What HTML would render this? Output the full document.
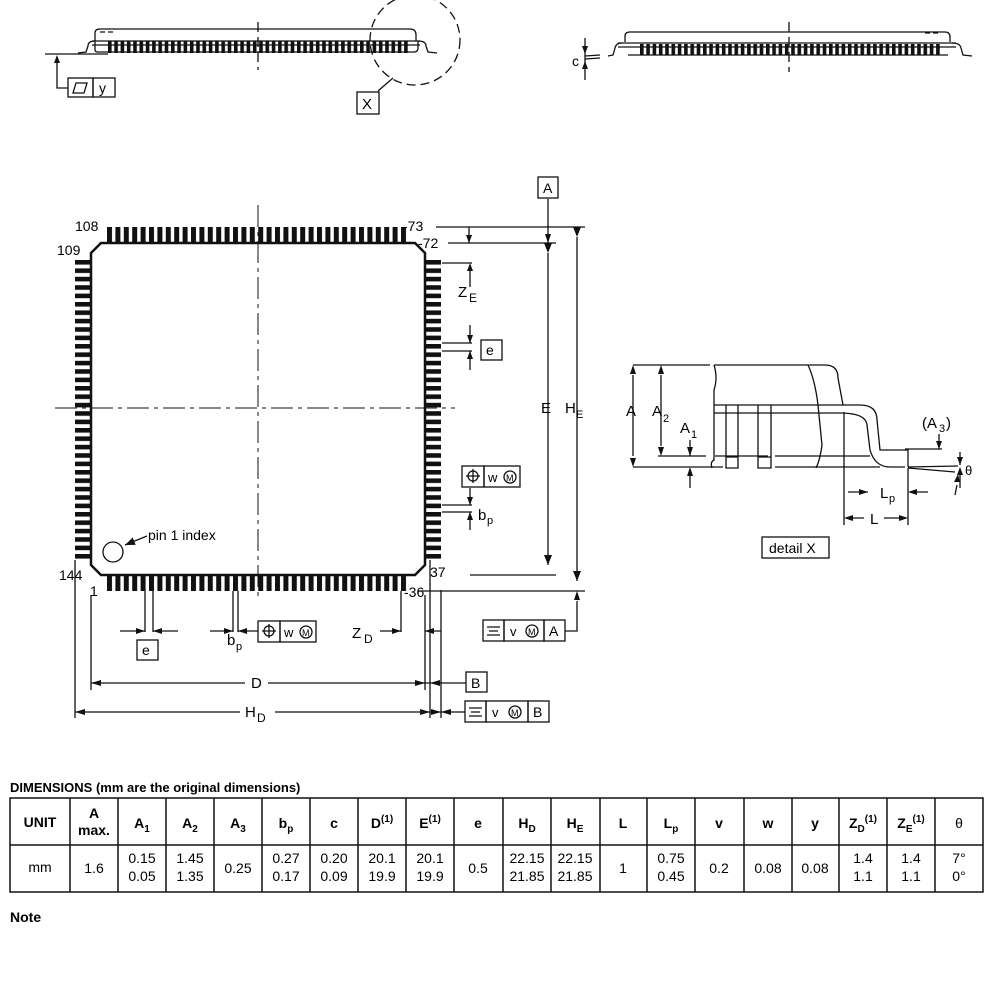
<!DOCTYPE html>
<html><head><meta charset="utf-8"><style>
body{margin:0;background:#fff}
svg{display:block;font-family:"Liberation Sans",Arial,sans-serif}
</style></head><body>
<svg width="1000" height="1000" viewBox="0 0 1000 1000" xmlns="http://www.w3.org/2000/svg">
<defs>
<pattern id="ph" x="107" y="0" width="8.4" height="20" patternUnits="userSpaceOnUse"><rect x="0" y="0" width="5" height="20" fill="#111"/></pattern>
<pattern id="pv" x="0" y="260" width="20" height="8.4" patternUnits="userSpaceOnUse"><rect x="0" y="0" width="20" height="4.6" fill="#111"/></pattern>
<pattern id="ps1" x="108" y="0" width="6.3" height="20" patternUnits="userSpaceOnUse"><rect x="0" y="0" width="3.6" height="20" fill="#111"/></pattern>
<pattern id="ps2" x="640" y="0" width="6.3" height="20" patternUnits="userSpaceOnUse"><rect x="0" y="0" width="3.6" height="20" fill="#111"/></pattern>
<marker id="ar" markerWidth="10" markerHeight="8" refX="10" refY="4" orient="auto" markerUnits="userSpaceOnUse"><path d="M0,0 L10,4 L0,8 z" fill="#111"/></marker>
</defs>
<g stroke="#111" fill="none" stroke-width="1.3">
<path d="M95,41 L95,33 Q95,29 100,29 L410,29 Q416,29 416,35 L416,41"/>
<path d="M92,41 L420,41 M92,45 L420,45"/>
<path d="M95,41 Q88,41 88,46 L86,52 L78,53 M418,41 Q426,41 426,46 L428,52 L437,53"/>
<path d="M98,52 L414,52 M95,41 L95,50 Q95,52 98,52 M414,52 Q418,52 418,48 L418,41"/>
<path d="M100,32 L115,32" stroke-dasharray="5,3"/>
<path d="M45,54 L108,54"/>
<path d="M258,22 L258,70" stroke-dasharray="10,5"/>
<path d="M57,57 L57,88 L68,88"/>
<circle cx="415" cy="40" r="45" stroke-dasharray="9,5"/>
<path d="M378,91 L393,78"/>
</g>
<rect x="108" y="41" width="302" height="12" fill="url(#ps1)"/>
<path d="M57,55 l-3,8 l6,0 z" fill="#111"/>
<rect x="68" y="78" width="25" height="19" fill="none" stroke="#111" stroke-width="1.3"/>
<rect x="93" y="78" width="22" height="19" fill="none" stroke="#111" stroke-width="1.3"/>
<path d="M76,83 L87,83 L84,93 L73,93 z" fill="none" stroke="#111" stroke-width="1.3"/>
<text x="99" y="93" font-size="14">y</text>
<rect x="357" y="92" width="22" height="22" fill="none" stroke="#111" stroke-width="1.3"/>
<text x="362" y="109" font-size="15">X</text>

<g stroke="#111" fill="none" stroke-width="1.3">
<path d="M625,42 L625,36 Q625,32 630,32 L945,32 Q950,32 950,37 L950,42"/>
<path d="M618,43 L956,43 M618,47 L956,47"/>
<path d="M622,43 Q616,43 615,48 L613,55 L608,56 M952,43 Q960,43 961,48 L963,55 L972,56"/>
<path d="M628,55 L948,55"/>
<path d="M925,33 L940,33" stroke-dasharray="5,3"/>
<path d="M789,22 L789,72" stroke-dasharray="10,5"/>
<path d="M585,38 L585,80 M585,56 L600,55 M585,59 L600,58"/>
</g>
<rect x="640" y="44" width="300" height="11" fill="url(#ps2)"/>
<path d="M585,54 l-3,-8 l6,0 z M585,61 l-3,8 l6,0 z" fill="#111"/>
<text x="572" y="66" font-size="14">c</text>

<g stroke="#111" fill="none">
<path d="M258,205 L258,600" stroke-width="1" stroke-dasharray="22,5,4,5"/>
<path d="M55,408 L455,408" stroke-width="1" stroke-dasharray="22,5,4,5"/>
<path d="M101,243 L415,243 L425,253 L425,565 L415,575 L101,575 L91,565 L91,253 Z" stroke-width="2.5"/>
</g>
<rect x="107" y="227" width="300" height="16" fill="url(#ph)"/>
<rect x="107" y="575" width="300" height="16" fill="url(#ph)"/>
<rect x="75" y="260" width="16" height="302" fill="url(#pv)"/>
<rect x="425" y="260" width="16" height="302" fill="url(#pv)"/>
<circle cx="113" cy="552" r="10" fill="none" stroke="#111" stroke-width="1.3"/>
<path d="M147,536 L125,545" stroke="#111" stroke-width="1.3" marker-end="url(#ar)"/>
<text x="148" y="540" font-size="14">pin 1 index</text>
<g font-size="14">
<text x="75" y="231">108</text>
<text x="57" y="255">109</text>
<text x="59" y="580">144</text>
<text x="90" y="596">1</text>
<text x="403" y="231">-73</text>
<text x="418" y="248">-72</text>
<text x="430" y="577">37</text>
<text x="404" y="597">-36</text>
</g>
<g stroke="#111" fill="none" stroke-width="1.3">
<path d="M436,227 L585,227 M448,243 L556,243 M470,575 L556,575 M418,591 L585,591"/>
<path d="M548,199 L548,243"/>
<path d="M548,253 L548,565" marker-start="url(#ar)" marker-end="url(#ar)"/>
<path d="M577,237 L577,581" marker-start="url(#ar)" marker-end="url(#ar)"/>
<path d="M469,227 L469,243" />
<path d="M442,263 L472,263 M470,270 L470,287 M442,343 L472,343 M442,351 L472,351 M470,325 L470,343 M470,351 L470,370"/>
<path d="M442,505 L472,505 M442,512 L472,512 M470,488 L470,505 M470,512 L470,530"/>
<path d="M430,560 L430,718 M441,590 L441,718 M577,601 L577,631 L565,631"/>
<path d="M91,595 L91,690 M75,560 L75,718 M425,595 L425,690"/>
<path d="M145,591 L145,632 M153,591 L153,632 M120,631 L145,631 M153,631 L178,631"/>
<path d="M233,591 L233,632 M238,591 L238,632 M210,631 L233,631 M238,631 L258,631"/>
<path d="M401,591 L401,632 M380,631 L401,631 M425,631 L441,631"/>
<path d="M91,683 L245,683 M268,683 L425,683 M425,683 L466,683"/>
<path d="M75,712 L240,712 M275,712 L441,712 M441,712 L465,712"/>
</g>
<g fill="#111">
<path d="M469,243 l-3,-8 l6,0 z M548,243 l-3,-9 l6,0 z M470,263 l-3,8 l6,0 z M470,343 l-3,-8 l6,0 z M470,351 l-3,8 l6,0 z M470,505 l-3,-8 l6,0 z M470,512 l-3,8 l6,0 z M577,591 l-3,9 l6,0 z"/>
<path d="M145,631 l-9,-3 l0,6 z M153,631 l9,-3 l0,6 z M233,631 l-9,-3 l0,6 z M238,631 l9,-3 l0,6 z M401,631 l-9,-3 l0,6 z M425,631 l9,-3 l0,6 z"/>
<path d="M91,683 l10,-3 l0,6 z M425,683 l-10,-3 l0,6 z M75,712 l10,-3 l0,6 z M441,712 l-10,-3 l0,6 z M441,712 l10,-3 l0,6 z M430,712 l-10,-3 l0,6 z M430,683 l10,-3 l0,6 z"/>
</g>
<g font-size="15">
<text x="541" y="413">E</text>
<text x="565" y="413">H</text><text x="576" y="418" font-size="11">E</text>
<text x="458" y="297">Z</text><text x="469" y="302" font-size="12">E</text>
<text x="478" y="520">b</text><text x="487" y="524" font-size="11">p</text>
<text x="251" y="688">D</text>
<text x="245" y="717">H</text><text x="257" y="722" font-size="12">D</text>
<text x="352" y="638">Z</text><text x="364" y="643" font-size="12">D</text>
<text x="227" y="645">b</text><text x="236" y="650" font-size="11">p</text>
</g>
<g stroke="#111" fill="none" stroke-width="1.3">
<rect x="538" y="177" width="20" height="21"/>
<rect x="481" y="340" width="21" height="20"/>
<rect x="137" y="640" width="21" height="20"/>
<rect x="466" y="672" width="21" height="20"/>
<rect x="462" y="466" width="22" height="21"/><rect x="484" y="466" width="36" height="21"/>
<rect x="258" y="621" width="22" height="21"/><rect x="280" y="621" width="36" height="21"/>
<rect x="483" y="620" width="21" height="21"/><rect x="504" y="620" width="40" height="21"/><rect x="544" y="620" width="21" height="21"/>
<rect x="465" y="701" width="21" height="21"/><rect x="486" y="701" width="42" height="21"/><rect x="528" y="701" width="21" height="21"/>
<circle cx="473" cy="476" r="5"/><path d="M473,469 L473,483 M466,476 L480,476"/>
<circle cx="269" cy="631" r="5"/><path d="M269,624 L269,638 M262,631 L276,631"/>
<circle cx="510" cy="477" r="6"/><circle cx="306" cy="632" r="6"/>
<circle cx="532" cy="631" r="6"/><circle cx="515" cy="712" r="6"/>
<path d="M487,627 L500,627 M489,631 L498,631 M487,635 L500,635 M469,708 L482,708 M471,712 L480,712 M469,716 L482,716"/>
</g>
<g font-size="14">
<text x="543" y="193">A</text>
<text x="486" y="355">e</text>
<text x="142" y="655">e</text>
<text x="471" y="688">B</text>
<text x="488" y="482" font-size="13">w</text><text x="506" y="481" font-size="9">M</text>
<text x="284" y="637" font-size="13">w</text><text x="302" y="636" font-size="9">M</text>
<text x="510" y="636" font-size="13">v</text><text x="528" y="635" font-size="9">M</text><text x="549" y="636">A</text>
<text x="492" y="717" font-size="13">v</text><text x="511" y="716" font-size="9">M</text><text x="533" y="717">B</text>
</g>

<g stroke="#111" fill="none" stroke-width="1.3">
<path d="M633,365 L710,365 M714,365 L825,365 Q838,365 838,378 L843,405"/>
<path d="M808,365 Q815,380 818,405 L822,445 Q820,460 816,468 M808,365"/>
<path d="M714,365 Q718,378 714,390 L714,460 Q710,462 712,468"/>
<path d="M714,405 L860,405 Q877,405 877,420 L880,450 L908,450 L908,467"/>
<path d="M714,413 L840,413 Q866,413 867,425 L870,450 Q875,467 890,467 L905,467"/>
<path d="M658,456 L706,456 M715,456 L768,456 M775,456 L870,456 M942,449 L905,449"/>
<path d="M633,467 L723,467 M775,467 L880,467 M908,467 L958,466 M908,468 L955,472"/>
<path d="M633,375 L633,456" />
<path d="M661,375 L661,446"/>
<path d="M690,440 L690,456 M690,476 L690,488"/>
<path d="M726,405 L726,468 L738,468 L738,405 M758,405 L758,468 L771,468 L771,405 M726,457 L738,457 M758,457 L771,457"/>
<path d="M844,412 L844,525 M908,468 L908,525 M848,492 L868,492 M910,492 L928,492 M846,518 L864,518 M884,518 L906,518"/>
<path d="M939,434 L939,449 M960,452 L960,465 M960,475 L960,488 M957,485 L955,495"/>
</g>
<g fill="#111">
<path d="M633,365 l-3,9 l6,0 z M633,467 l-3,-9 l6,0 z M661,365 l-3,9 l6,0 z M661,456 l-3,-9 l6,0 z M690,456 l-3,-9 l6,0 z M690,467 l-3,9 l6,0 z"/>
<path d="M939,449 l-3,-8 l6,0 z M960,465 l-3,-8 l6,0 z M960,467 l-3,8 l6,0 z M958,474 l-4,8 l6,0 z"/>
<path d="M868,492 l-9,-3 l0,6 z M908,492 l9,-3 l0,6 z M844,518 l9,-3 l0,6 z M908,518 l-9,-3 l0,6 z"/>
</g>
<g font-size="15">
<text x="626" y="416">A</text>
<text x="652" y="416">A</text><text x="663" y="422" font-size="11">2</text>
<text x="680" y="433">A</text><text x="691" y="438" font-size="11">1</text>
<text x="922" y="428">(A</text><text x="939" y="432" font-size="11">3</text><text x="946" y="428">)</text>
<text x="965" y="475" font-size="13">θ</text>
<text x="880" y="498">L</text><text x="889" y="502" font-size="11">p</text>
<text x="870" y="524">L</text>
</g>
<rect x="762" y="537" width="67" height="21" fill="none" stroke="#111" stroke-width="1.3"/>
<text x="769" y="553" font-size="14">detail X</text>

<text x="10" y="792" font-size="13" font-weight="bold">DIMENSIONS (mm are the original dimensions)</text>
<g stroke="#111" stroke-width="1.5" fill="none">
<rect x="10" y="798" width="973" height="94"/>
<path d="M10,845 L983,845"/>
<path d="M70,798V892M118,798V892M166,798V892M214,798V892M262,798V892M310,798V892M358,798V892M406,798V892M454,798V892M503,798V892M551,798V892M600,798V892M647,798V892M695,798V892M744,798V892M792,798V892M839,798V892M887,798V892M935,798V892"/>
</g>
<g font-size="14" font-weight="bold" text-anchor="middle">
<text x="40" y="827">UNIT</text>
<text x="94" y="818">A</text><text x="94" y="835">max.</text>
<text x="142" y="828">A<tspan font-size="10" dy="4">1</tspan></text>
<text x="190" y="828">A<tspan font-size="10" dy="4">2</tspan></text>
<text x="238" y="828">A<tspan font-size="10" dy="4">3</tspan></text>
<text x="286" y="828">b<tspan font-size="10" dy="4">p</tspan></text>
<text x="334" y="828">c</text>
<text x="382" y="828">D<tspan font-size="10" dy="-6">(1)</tspan></text>
<text x="430" y="828">E<tspan font-size="10" dy="-6">(1)</tspan></text>
<text x="478" y="828">e</text>
<text x="527" y="828">H<tspan font-size="10" dy="4">D</tspan></text>
<text x="575" y="828">H<tspan font-size="10" dy="4">E</tspan></text>
<text x="623" y="828">L</text>
<text x="671" y="828">L<tspan font-size="10" dy="4">p</tspan></text>
<text x="719" y="828">v</text>
<text x="768" y="828">w</text>
<text x="815" y="828">y</text>
<text x="863" y="828">Z<tspan font-size="10" dy="4">D</tspan><tspan font-size="10" dy="-10">(1)</tspan></text>
<text x="911" y="828">Z<tspan font-size="10" dy="4">E</tspan><tspan font-size="10" dy="-10">(1)</tspan></text>
<text x="959" y="828" font-weight="normal">θ</text>
</g>
<g font-size="14" text-anchor="middle">
<text x="40" y="872">mm</text>
<text x="94" y="873">1.6</text>
<text x="142" y="863">0.15</text><text x="142" y="881">0.05</text>
<text x="190" y="863">1.45</text><text x="190" y="881">1.35</text>
<text x="238" y="873">0.25</text>
<text x="286" y="863">0.27</text><text x="286" y="881">0.17</text>
<text x="334" y="863">0.20</text><text x="334" y="881">0.09</text>
<text x="382" y="863">20.1</text><text x="382" y="881">19.9</text>
<text x="430" y="863">20.1</text><text x="430" y="881">19.9</text>
<text x="478" y="873">0.5</text>
<text x="527" y="863">22.15</text><text x="527" y="881">21.85</text>
<text x="575" y="863">22.15</text><text x="575" y="881">21.85</text>
<text x="623" y="873">1</text>
<text x="671" y="863">0.75</text><text x="671" y="881">0.45</text>
<text x="719" y="873">0.2</text>
<text x="768" y="873">0.08</text>
<text x="815" y="873">0.08</text>
<text x="863" y="863">1.4</text><text x="863" y="881">1.1</text>
<text x="911" y="863">1.4</text><text x="911" y="881">1.1</text>
<text x="959" y="863">7°</text><text x="959" y="881">0°</text>
</g>
<text x="10" y="922" font-size="14" font-weight="bold">Note</text>
</svg>
</body></html>
